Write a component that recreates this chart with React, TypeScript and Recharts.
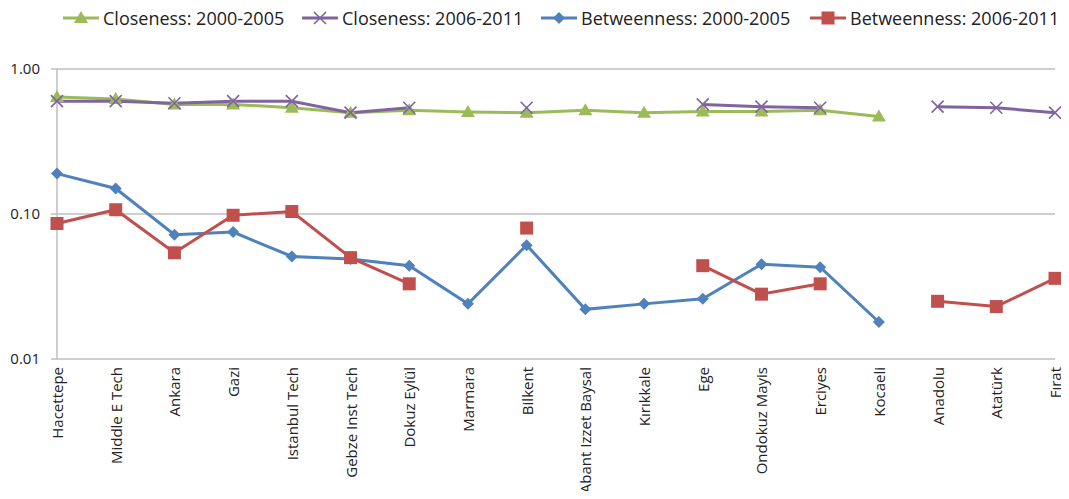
import { LineChart, Line, XAxis, YAxis, CartesianGrid, Legend } from 'recharts';

const universities = [
  'Hacettepe', 'Middle E Tech', 'Ankara', 'Gazi', 'Istanbul Tech', 'Gebze Inst Tech',
  'Dokuz Eylül', 'Marmara', 'Bilkent', 'Abant Izzet Baysal', 'Kırıkkale', 'Ege',
  'Ondokuz Mayis', 'Erciyes', 'Kocaeli', 'Anadolu', 'Atatürk', 'Fırat',
];
const closeness0005 = [0.64, 0.62, 0.57, 0.57, 0.54, 0.5, 0.52, 0.505, 0.5, 0.52, 0.5, 0.51, 0.51, 0.52, 0.47, null, null, null];
const closeness0611 = [0.6, 0.6, 0.58, 0.6, 0.6, 0.5, 0.54, null, 0.54, null, null, 0.57, 0.55, 0.54, null, 0.55, 0.54, 0.5];
const betweenness0005 = [0.19, 0.15, 0.072, 0.075, 0.051, 0.049, 0.044, 0.024, 0.061, 0.022, 0.024, 0.026, 0.045, 0.043, 0.018, null, null, null];
const betweenness0611 = [0.086, 0.107, 0.054, 0.098, 0.104, 0.05, 0.033, null, 0.08, null, null, 0.044, 0.028, 0.033, null, 0.025, 0.023, 0.036];
const yTicks = [0.01, 0.1, 1];

const data = universities.map((name, i) => ({
  name,
  c1: closeness0005[i],
  c2: closeness0611[i],
  b1: betweenness0005[i],
  b2: betweenness0611[i],
}));

const GREEN = '#9BBB59';
const PURPLE = '#8064A2';
const BLUE = '#4F81BD';
const RED = '#C0504D';
const GRID = '#BFBFBF';
const FONT = '"Open Sans", sans-serif';

type Shape = 'triangle' | 'cross' | 'diamond' | 'square';

function marker(shape: Shape, color: string, cx: number, cy: number, key?: string) {
  if (shape === 'triangle') {
    return <path key={key} d={`M${cx},${cy - 7}L${cx + 7},${cy + 5}L${cx - 7},${cy + 5}Z`} fill={color} />;
  }
  if (shape === 'cross') {
    return (
      <path key={key} d={`M${cx - 6},${cy - 6}L${cx + 6},${cy + 6}M${cx + 6},${cy - 6}L${cx - 6},${cy + 6}`}
        stroke={color} strokeWidth={1.6} fill="none" />
    );
  }
  if (shape === 'diamond') {
    return <path key={key} d={`M${cx},${cy - 6}L${cx + 6},${cy}L${cx},${cy + 6}L${cx - 6},${cy}Z`} fill={color} />;
  }
  return <rect key={key} x={cx - 6.5} y={cy - 6.5} width={13} height={13} fill={color} />;
}

const makeDot = (shape: Shape, color: string) => (props: any) => {
  const { cx, cy, index, value } = props;
  if (cx == null || cy == null || value == null || Number.isNaN(cy)) return <g key={`e-${index}`} />;
  return marker(shape, color, cx, cy, `d-${index}`);
};

// legend entries, with the x where each icon starts
const legendItems: { label: string; color: string; shape: Shape; left: number }[] = [
  { label: 'Closeness: 2000-2005', color: GREEN, shape: 'triangle', left: 63 },
  { label: 'Closeness: 2006-2011', color: PURPLE, shape: 'cross', left: 302 },
  { label: 'Betweenness: 2000-2005', color: BLUE, shape: 'diamond', left: 541 },
  { label: 'Betweenness: 2006-2011', color: RED, shape: 'square', left: 810 },
];

function ChartLegend() {
  return (
    <div style={{ position: 'relative', height: 36, fontFamily: FONT, fontSize: 18, color: '#222' }}>
      {legendItems.map((it) => (
        <div key={it.label} style={{ position: 'absolute', left: it.left, top: 0, height: 36, display: 'flex', alignItems: 'center', whiteSpace: 'nowrap' }}>
          <svg width={36} height={16} style={{ marginRight: 4 }}>
            <line x1={0} y1={8} x2={36} y2={8} stroke={it.color} strokeWidth={3} />
            {marker(it.shape, it.color, 18, 8)}
          </svg>
          <span>{it.label}</span>
        </div>
      ))}
    </div>
  );
}

function XTick(props: any) {
  const { x, y, payload } = props;
  return (
    <text x={x} y={y} transform={`rotate(-90, ${x}, ${y})`} textAnchor="end" dominantBaseline="central"
      fontFamily={FONT} fontSize={15} fill="#222">
      {payload.value}
    </text>
  );
}

export default function App() {
  return (
    <div style={{ margin: -8, width: 1069, height: 499, overflow: 'hidden', background: '#fff' }}>
      <LineChart width={1069} height={499} data={data} margin={{ top: 33, right: 14, bottom: 0, left: 0 }}>
        <CartesianGrid vertical={false} stroke={GRID} strokeWidth={1.5} />
        <Legend verticalAlign="top" content={() => <ChartLegend />} wrapperStyle={{ top: 0, left: 0, width: 1069, height: 36 }} />
        <XAxis dataKey="name" height={140} tick={<XTick />} tickLine={false} axisLine={false} tickMargin={0} tickSize={8} interval={0} />
        <XAxis xAxisId="top" dataKey="name" orientation="top" height={0} mirror axisLine={false}
          tickLine={{ stroke: GRID, strokeWidth: 1.5 }} tickSize={5} tickFormatter={() => ''} interval={0} />
        <YAxis scale="log" domain={[0.01, 1]} ticks={yTicks} width={57} allowDataOverflow
          tickFormatter={(v: number) => v.toFixed(2)} tick={{ fontFamily: FONT, fontSize: 15, fill: '#222' }}
          axisLine={{ stroke: GRID, strokeWidth: 1.5 }} tickLine={{ stroke: GRID, strokeWidth: 1.5 }} tickSize={6} tickMargin={11} />
        <Line dataKey="c1" stroke={GREEN} strokeWidth={3} dot={makeDot('triangle', GREEN)} isAnimationActive={false} />
        <Line dataKey="c2" stroke={PURPLE} strokeWidth={3} dot={makeDot('cross', PURPLE)} isAnimationActive={false} />
        <Line dataKey="b1" stroke={BLUE} strokeWidth={3} dot={makeDot('diamond', BLUE)} isAnimationActive={false} />
        <Line dataKey="b2" stroke={RED} strokeWidth={3} dot={makeDot('square', RED)} isAnimationActive={false} />
      </LineChart>
    </div>
  );
}
